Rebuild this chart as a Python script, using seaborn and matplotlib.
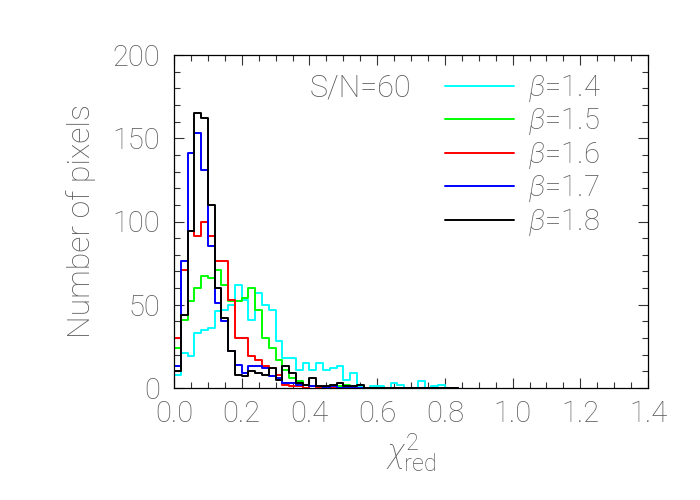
import numpy as np
import pandas as pd
import matplotlib
matplotlib.use("Agg")
import matplotlib.pyplot as plt
import seaborn as sns
from matplotlib.ticker import MultipleLocator

sns.set_style("ticks")
plt.rcParams["font.family"] = ["Roboto", "DejaVu Sans"]
plt.rcParams["font.weight"] = "light"
plt.rcParams["axes.labelweight"] = "light"
plt.rcParams["mathtext.fontset"] = "custom"
plt.rcParams["mathtext.rm"] = "Roboto:light"
plt.rcParams["mathtext.it"] = "Roboto:italic:light"

# ----------------------------------------------------------
# Histogram counts (bin width 0.02, from 0)
# ----------------------------------------------------------
bin_width = 0.02
betas = ["1.4", "1.5", "1.6", "1.7", "1.8"]
colors = ["#00ffff", "#00ff00", "#ff0000", "#0000ff", "#000000"]

n_b14 = [8, 21, 19, 33, 35, 36, 46, 47, 50, 62, 53, 41, 57, 50, 47, 28, 18, 18, 11, 15, 11,
         15, 11, 12, 13, 5, 9, 1, 0, 1, 1, 0, 3, 2, 0, 0, 4, 0, 1, 2, 0, 0]
n_b15 = [24, 41, 52, 60, 67, 66, 71, 62, 52, 52, 54, 60, 47, 30, 24, 17, 11, 6, 4, 2, 1,
         0, 0, 2, 1, 2, 1, 0, 0, 0, 0, 0, 0, 0, 0, 0, 0, 0, 0, 0, 0, 0]
n_b16 = [30, 71, 94, 91, 100, 91, 76, 76, 53, 30, 30, 19, 17, 13, 12, 8, 2, 1, 1, 0, 1,
         0, 0, 0, 0, 0, 0, 0, 0, 0, 0, 0, 0, 0, 0, 0, 0, 0, 0, 0, 0, 0]
n_b17 = [13, 76, 141, 153, 131, 85, 51, 40, 22, 14, 9, 13, 13, 12, 7, 6, 3, 3, 2, 2, 1,
         1, 0, 1, 0, 0, 0, 0, 0, 0, 0, 0, 0, 0, 0, 0, 0, 0, 0, 0, 0, 0]
n_b18 = [10, 44, 94, 165, 162, 110, 60, 42, 22, 8, 7, 10, 9, 8, 12, 5, 13, 9, 3, 2, 6,
         1, 1, 2, 3, 1, 1, 2, 0, 0, 0, 0, 0, 0, 0, 0, 0, 0, 0, 0, 0, 0]
counts = [n_b14, n_b15, n_b16, n_b17, n_b18]

nbins = len(n_b14)
centers = (np.arange(nbins) + 0.5) * bin_width

# ----------------------------------------------------------
# Figure
# ----------------------------------------------------------
text_gray = "#5a5a5a"
fig = plt.figure(figsize=(7, 5), dpi=100)
ax = fig.add_axes([174 / 700, 1 - 388 / 500, (648 - 174) / 700, (388 - 55) / 500])

for beta, col, n in zip(betas, colors, counts):
    df = pd.DataFrame({"chi2": centers, "n": n})
    sns.histplot(data=df, x="chi2", weights="n", binwidth=bin_width,
                 binrange=(0, nbins * bin_width), element="step",
                 fill=False, color=col, linewidth=1.4, ax=ax,
                 label=r"$\beta$=" + beta)

ax.set_xlim(0, 1.4)
ax.set_ylim(0, 200)
ax.xaxis.set_major_locator(MultipleLocator(0.2))
ax.xaxis.set_minor_locator(MultipleLocator(0.05))
ax.yaxis.set_major_locator(MultipleLocator(50))
ax.yaxis.set_minor_locator(MultipleLocator(10))
ax.tick_params(which="both", direction="in", top=True, right=True,
               color="#333333", labelcolor=text_gray, labelsize=21)
ax.tick_params(which="major", length=7, width=0.8)
ax.tick_params(which="minor", length=4, width=0.8)
ax.tick_params(axis="x", pad=9)
ax.tick_params(axis="y", pad=10)
ax.xaxis.set_major_formatter(matplotlib.ticker.FormatStrFormatter("%.1f"))
for s in ax.spines.values():
    s.set_color("black")
    s.set_linewidth(0.9)

ax.set_xlabel(r"$\chi^2_{\rm red}$", fontsize=24, color=text_gray, labelpad=2)
ax.set_ylabel("Number of pixels", fontsize=23, color=text_gray, labelpad=12,
              fontweight="light")

fig.text(310 / 700, 1 - 88 / 500, "S/N=60", fontsize=22, color=text_gray,
         va="center", ha="left")
leg = ax.legend(loc="upper left", bbox_to_anchor=(445 / 700, 1 - 72 / 500),
                bbox_transform=fig.transFigure, frameon=False, fontsize=21,
                handlelength=2.35, handletextpad=0.5, labelspacing=0.05,
                borderpad=0, borderaxespad=0, labelcolor=text_gray)

fig.savefig("out.png", dpi=100)
